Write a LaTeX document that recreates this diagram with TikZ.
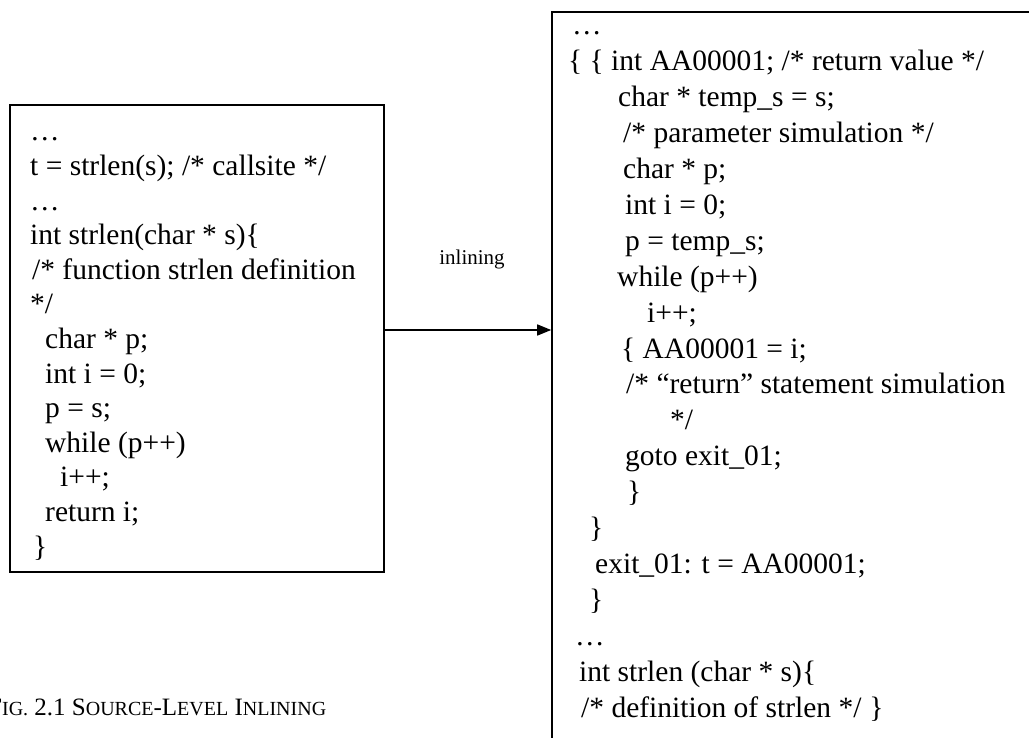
\documentclass[tikz,border=0pt]{standalone}
\usepackage{fontspec}
\setmainfont{Liberation Serif}
\usetikzlibrary{arrows.meta}
\tikzset{
  box/.style={draw, line width=1.6pt, rectangle, inner sep=0pt},
  code/.style={anchor=base west, inner sep=0pt, align=left,
    font=\fontsize{29.5}{34.6}\selectfont},
  codewide/.style={code, font=\fontsize{29.5}{35.9}\selectfont},
  flow/.style={line width=1.6pt, -{Triangle[length=14pt,width=11pt]}},
  lbl/.style={anchor=base, inner sep=0pt, font=\fontsize{21}{25}\selectfont},
}
\newcommand{\capsm}[1]{{\fontsize{20}{23}\selectfont #1}}
\begin{document}
\begin{tikzpicture}[x=1pt,y=-1pt]
\useasboundingbox (0,0) rectangle (1029,738);
\clip (0,0) rectangle (1029,738);

% the two code panels
\node[box, minimum width=374pt, minimum height=467pt] (src) at (197,338.5) {};
\node[box, minimum width=508pt, minimum height=748pt] (dst) at (806,386) {};

% original program with the call site (placed by its last baseline)
\node[code] (srctext) at (30,556) {…\\
t = strlen(s); /* callsite */\\
…\\
int strlen(char * s)\{\\
\hspace*{2pt}/* function strlen definition\\
{}*/\\
\hspace*{15pt}char * p;\\
\hspace*{15pt}int i = 0;\\
\hspace*{15pt}p = s;\\
\hspace*{15pt}while (p++)\\
\hspace*{30pt}i++;\\
\hspace*{15pt}return i;\\
\hspace*{3pt}\}};

% program after inlining (placed by its last baseline)
\node[codewide] (dsttext) at (568,717) {\hspace*{4pt}…\\
\{ \{ int AA00001; /* return value */\\
\hspace*{50pt}char * temp\_s = s;\\
\hspace*{55pt}/* parameter simulation */\\
\hspace*{55pt}char * p;\\
\hspace*{57pt}int i = 0;\\
\hspace*{57pt}p = temp\_s;\\
\hspace*{49pt}while (p++)\\
\hspace*{79pt}i++;\\
\hspace*{53pt}\{ AA00001 = i;\\
\hspace*{58pt}/* “return” statement simulation\\
\hspace*{102pt}*/\\
\hspace*{57pt}goto exit\_01;\\
\hspace*{59pt}\}\\
\hspace*{21pt}\}\\
\hspace*{27pt}exit\_01: t = AA00001;\\
\hspace*{21pt}\}\\
\hspace*{7pt}…\\
\hspace*{11pt}int strlen (char * s)\{\\
\hspace*{13pt}/* definition of strlen */\hspace*{8pt}\}};

% transformation arrow
\path ([yshift=8.5pt]src.east) coordinate (from);
\draw[flow] (from) -- (from -| dst.west);
\node[lbl] (inl) at (472,265) {inlining};

% caption
\node[anchor=base west, inner sep=0pt, font=\fontsize{25}{29}\selectfont]
  (cap) at (-12,715) {F\capsm{IG.} 2.1 S\capsm{OURCE}-L\capsm{EVEL} I\capsm{NLINING}};
\end{tikzpicture}
\end{document}
